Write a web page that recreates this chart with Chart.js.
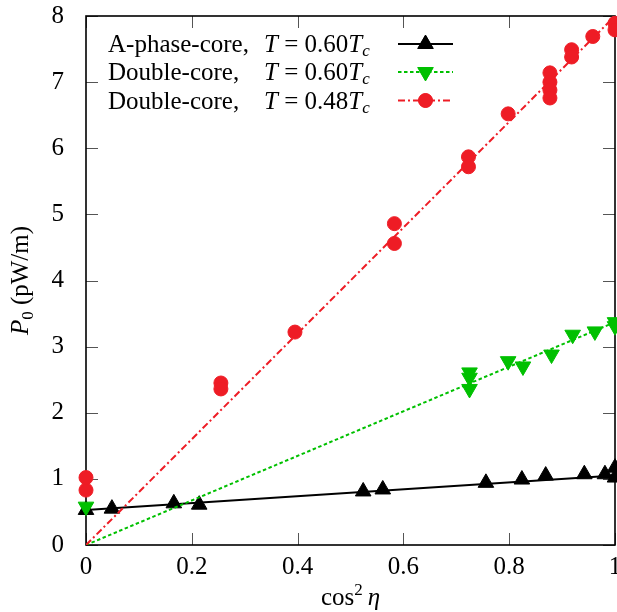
<!DOCTYPE html>
<html>
<head>
<meta charset="utf-8">
<script src="https://cdn.jsdelivr.net/npm/chart.js@4"></script>
<style>
  html, body { margin: 0; padding: 0; background: #fff; }
  #wrap { width: 617px; height: 612px; }
</style>
</head>
<body>
<div id="wrap"><canvas id="powerChart" width="617" height="612"></canvas></div>
<script>
// Measured P0 against cos^2(eta)
const xAPhase = [0, 0.049, 0.166, 0.214, 0.524, 0.561, 0.756, 0.824, 0.869, 0.942, 0.981, 1, 1];
const yAPhase = [0.53, 0.55, 0.63, 0.61, 0.81, 0.84, 0.94, 0.99, 1.05, 1.07, 1.07, 1.17, 1.02];

const xDouble60 = [0, 0.725, 0.725, 0.725, 0.798, 0.826, 0.880, 0.920, 0.962, 1, 1];
const yDouble60 = [0.58, 2.61, 2.53, 2.36, 2.78, 2.70, 2.88, 3.18, 3.23, 3.37, 3.31];

const xDouble48 = [0, 0, 0.255, 0.255, 0.395, 0.583, 0.583, 0.723, 0.723, 0.798, 0.877, 0.877, 0.877, 0.877, 0.918, 0.918, 0.958, 1, 1];
const yDouble48 = [0.83, 1.02, 2.45, 2.36, 3.22, 4.86, 4.56, 5.87, 5.72, 6.52, 7.14, 7.00, 6.88, 6.76, 7.49, 7.38, 7.69, 7.89, 7.79];

// linear fits  P0 = a + b cos^2(eta), order: A-phase, double 0.60, double 0.48
const fitIntercepts = [0.53, 0, 0];
const fitSlopes = [0.52, 3.37, 8.0];

const xTicks = [0, 0.2, 0.4, 0.6, 0.8, 1];
const yTicks = [0, 1, 2, 3, 4, 5, 6, 7, 8];

const BLACK = '#000000';
const GREEN = '#00c000';
const RED = '#ee1c25';
const SERIF = '"Liberation Serif", "DejaVu Serif", serif';

function toPoints(xs, ys) {
    return xs.map((x, i) => ({ x: x, y: ys[i] }));
}

function fitLine(i) {
    return [0, 1].map(x => ({ x: x, y: fitIntercepts[i] + fitSlopes[i] * x }));
}

// draw a row of text pieces with different fonts, returns end x
function drawRuns(ctx, runs, x, y) {
    runs.forEach(r => {
        ctx.font = r.font;
        ctx.fillText(r.text, x, y + (r.dy || 0));
        x += ctx.measureText(r.text).width + (r.gap || 0);
    });
    return x;
}

function runsWidth(ctx, runs) {
    let w = 0;
    runs.forEach(r => {
        ctx.font = r.font;
        w += ctx.measureText(r.text).width + (r.gap || 0);
    });
    return w;
}

const rm = '25px ' + SERIF;
const it = 'italic 25px ' + SERIF;
const small = '17px ' + SERIF;
const smallIt = 'italic 17px ' + SERIF;

const TRI = 9;
const DOT = 7;

const legendRows = [
    { name: 'A-phase-core,', temp: '0.60', color: BLACK, style: 'triangle', rot: 0, dash: [] },
    { name: 'Double-core,', temp: '0.60', color: GREEN, style: 'triangle', rot: 180, dash: [3.5, 2.5] },
    { name: 'Double-core,', temp: '0.48', color: RED, style: 'circle', rot: 0, dash: [7, 3, 2, 3] }
];

// frame, inward ticks on all four sides, axis titles and key
const framePlugin = {
    id: 'frame',
    beforeDatasetsDraw(chart) {
        const { ctx, chartArea: a, scales } = chart;
        ctx.save();
        ctx.strokeStyle = '#555';
        ctx.lineWidth = 1;
        const len = 12;
        xTicks.forEach(v => {
            const px = Math.round(scales.x.getPixelForValue(v)) + 0.5;
            ctx.beginPath();
            ctx.moveTo(px, a.bottom); ctx.lineTo(px, a.bottom - len);
            ctx.moveTo(px, a.top); ctx.lineTo(px, a.top + len);
            ctx.stroke();
        });
        yTicks.forEach(v => {
            const py = Math.round(scales.y.getPixelForValue(v)) + 0.5;
            ctx.beginPath();
            ctx.moveTo(a.left, py); ctx.lineTo(a.left + len, py);
            ctx.moveTo(a.right, py); ctx.lineTo(a.right - len, py);
            ctx.stroke();
        });
        ctx.strokeStyle = BLACK;
        ctx.lineWidth = 1.6;
        ctx.strokeRect(a.left, a.top, a.right - a.left, a.bottom - a.top);
        ctx.restore();
    },
    afterDraw(chart) {
        const { ctx, chartArea: a } = chart;
        ctx.save();
        ctx.fillStyle = BLACK;
        ctx.textBaseline = 'alphabetic';
        ctx.textAlign = 'left';

        // x title: cos^2 eta
        const xRuns = [
            { text: 'cos', font: rm },
            { text: '2', font: small, dy: -10, gap: 5 },
            { text: '\u03b7', font: it }
        ];
        const xw = runsWidth(ctx, xRuns);
        drawRuns(ctx, xRuns, (a.left + a.right) / 2 - xw / 2, 605);

        // y title: P0 (pW/m)
        const yRuns = [
            { text: 'P', font: it },
            { text: '0', font: small, dy: 5 },
            { text: ' (pW/m)', font: rm }
        ];
        const yw = runsWidth(ctx, yRuns);
        ctx.save();
        ctx.translate(22, (a.top + a.bottom) / 2);
        ctx.rotate(-Math.PI / 2);
        drawRuns(ctx, yRuns, -yw / 2, 6);
        ctx.restore();

        // key
        const rowY = [44, 72, 100.5];
        legendRows.forEach((row, i) => {
            const y = rowY[i];
            ctx.fillStyle = BLACK;
            drawRuns(ctx, [{ text: row.name, font: rm }], 108, y + 8);
            drawRuns(ctx, [
                { text: 'T', font: it },
                { text: ' = ' + row.temp, font: rm },
                { text: 'T', font: it },
                { text: 'c', font: smallIt, dy: 4 }
            ], 264, y + 8);

            ctx.strokeStyle = row.color;
            ctx.lineWidth = 2;
            ctx.setLineDash(row.dash);
            ctx.beginPath();
            ctx.moveTo(398, y); ctx.lineTo(453, y);
            ctx.stroke();
            ctx.setLineDash([]);
            ctx.fillStyle = row.color;
            ctx.lineWidth = 1;
            Chart.helpers.drawPoint(ctx, {
                pointStyle: row.style,
                rotation: row.rot,
                radius: row.style === 'circle' ? DOT : TRI,
                borderWidth: 1
            }, 425.5, y);
            ctx.fill();
        });
        ctx.restore();
    }
};

function scatterSet(label, xs, ys, color, style, rot, radius, order) {
    return {
        label: label,
        data: toPoints(xs, ys),
        showLine: false,
        pointStyle: style,
        rotation: rot,
        pointRadius: radius,
        pointBorderWidth: 1,
        pointBackgroundColor: color,
        pointBorderColor: color,
        clip: false,
        order: order
    };
}

function fitSet(i, color, dash, order) {
    return {
        type: 'line',
        data: fitLine(i),
        showLine: true,
        borderColor: color,
        borderWidth: 2,
        borderDash: dash,
        pointRadius: 0,
        fill: false,
        order: order
    };
}

const ctx = document.getElementById('powerChart').getContext('2d');
new Chart(ctx, {
    type: 'scatter',
    data: {
        datasets: [
            fitSet(0, BLACK, [], 6),
            scatterSet('A-phase-core, T = 0.60Tc', xAPhase, yAPhase, BLACK, 'triangle', 0, TRI, 5),
            fitSet(1, GREEN, [3.5, 2.5], 4),
            scatterSet('Double-core, T = 0.60Tc', xDouble60, yDouble60, GREEN, 'triangle', 180, TRI, 3),
            fitSet(2, RED, [7, 3, 2, 3], 2),
            scatterSet('Double-core, T = 0.48Tc', xDouble48, yDouble48, RED, 'circle', 0, DOT, 1)
        ]
    },
    options: {
        responsive: false,
        animation: false,
        layout: { autoPadding: false, padding: { top: 16, right: 2, left: 0, bottom: 0 } },
        plugins: {
            legend: { display: false },
            tooltip: { enabled: false }
        },
        scales: {
            x: {
                type: 'linear',
                min: 0,
                max: 1,
                afterBuildTicks: s => { s.ticks = xTicks.map(v => ({ value: v })); },
                ticks: {
                    font: { family: SERIF, size: 25 },
                    color: BLACK,
                    padding: 7,
                    maxRotation: 0,
                    callback: v => String(+v.toFixed(1))
                },
                grid: { display: false, drawTicks: false },
                border: { display: false },
                afterFit: s => { s.height = 67; s.paddingLeft = 0; s.paddingRight = 0; }
            },
            y: {
                type: 'linear',
                min: 0,
                max: 8,
                afterBuildTicks: s => { s.ticks = yTicks.map(v => ({ value: v })); },
                ticks: {
                    font: { family: SERIF, size: 25 },
                    color: BLACK,
                    padding: 22
                },
                grid: { display: false, drawTicks: false },
                border: { display: false },
                afterFit: s => { s.width = 86; s.paddingTop = 0; s.paddingBottom = 0; }
            }
        }
    },
    plugins: [framePlugin]
});
</script>
</body>
</html>
